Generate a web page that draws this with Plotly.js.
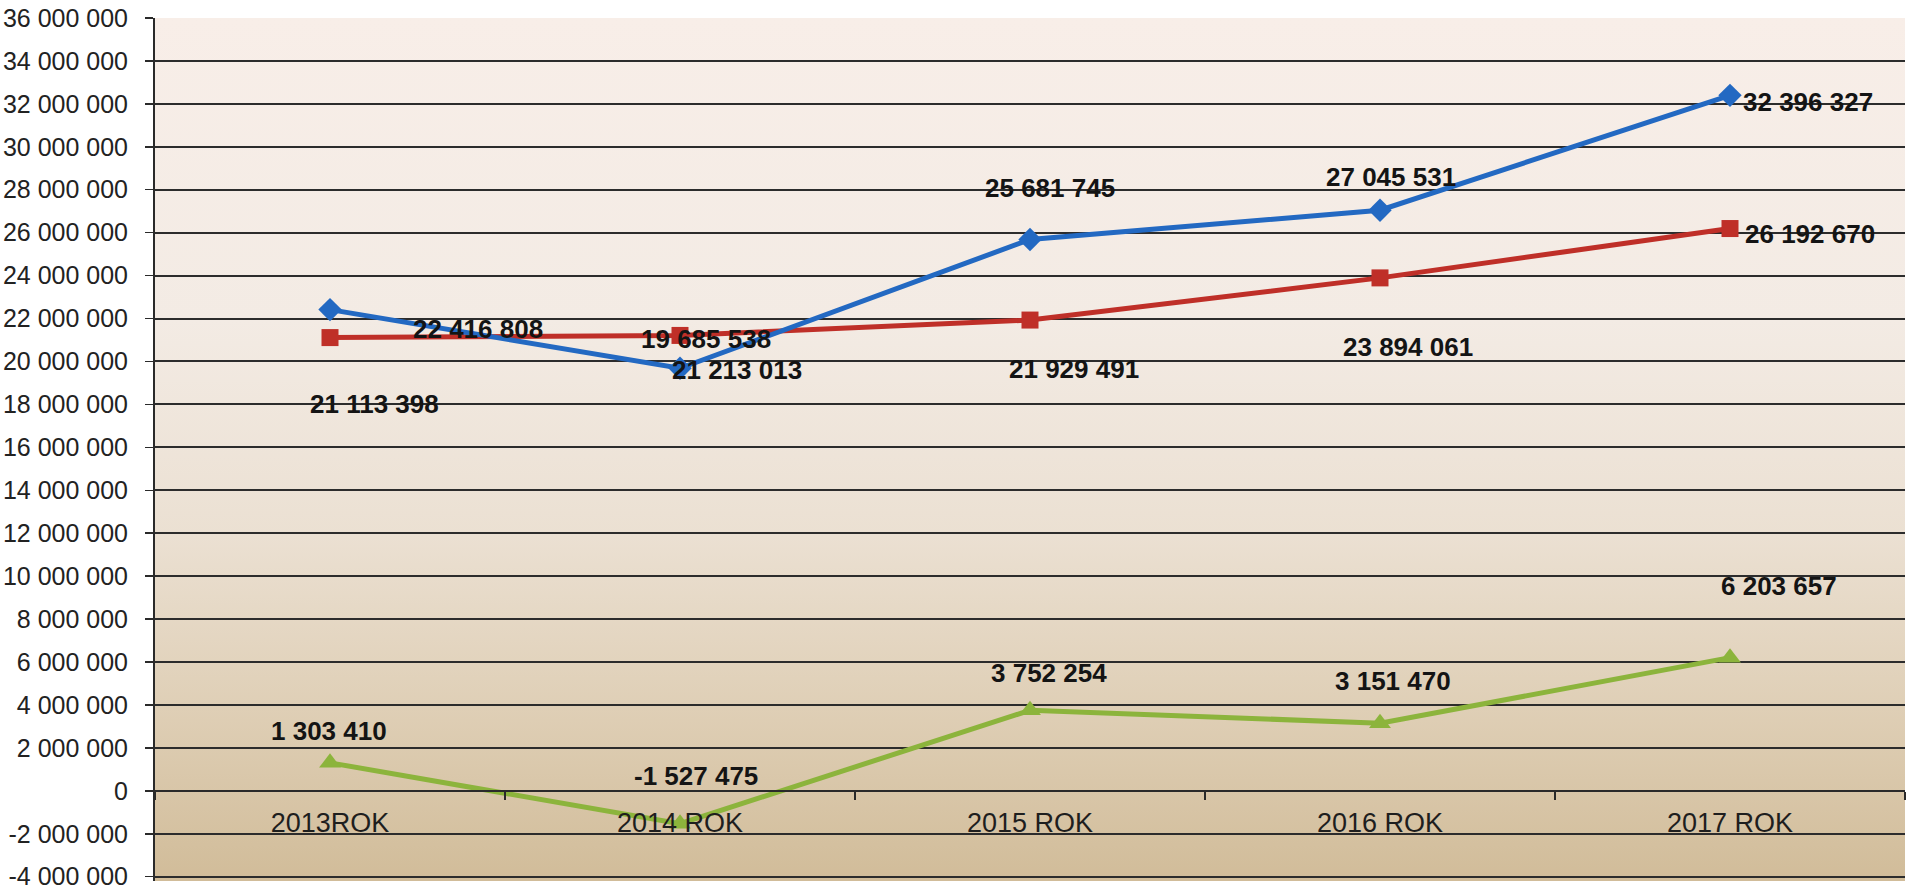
<!DOCTYPE html>
<html>
<head>
<meta charset="utf-8">
<script src="https://cdn.plot.ly/plotly-3.0.1.min.js"></script>
<style>
  html, body { margin: 0; padding: 0; background: #ffffff; }
  #chart { width: 1908px; height: 893px; }
</style>
</head>
<body>
<div id="chart"></div>
<script>
// ---- data ----
const categories = ["2013ROK", "2014 ROK", "2015 ROK", "2016 ROK", "2017 ROK"];
const seriesBlue  = [22416808, 19685538, 25681745, 27045531, 32396327];
const seriesRed   = [21113398, 21213013, 21929491, 23894061, 26192670];
const seriesGreen = [1303410, -1527475, 3752254, 3151470, 6203657];
const yTickValues = [-4000000, -2000000, 0, 2000000, 4000000, 6000000, 8000000, 10000000, 12000000,
  14000000, 16000000, 18000000, 20000000, 22000000, 24000000, 26000000, 28000000, 30000000,
  32000000, 34000000, 36000000];
const yTickLabels = ["-4 000 000", "-2 000 000", "0", "2 000 000", "4 000 000", "6 000 000", "8 000 000",
  "10 000 000", "12 000 000", "14 000 000", "16 000 000", "18 000 000", "20 000 000", "22 000 000",
  "24 000 000", "26 000 000", "28 000 000", "30 000 000", "32 000 000", "34 000 000", "36 000 000"];

// ---- label placement (pixel offsets from each point) ----
const offBlue  = [[148, -19], [26, 29], [20, 52], [11, 33], [78, -7]];
const offRed   = [[44, -66], [57, -35], [44, -49], [28, -69], [80, -5]];
const offGreen = [[-1, 32], [16, 48], [19, 37], [13, 42], [49, 72]];

function fmt(v) {
  const s = Math.abs(v).toString().replace(/\B(?=(\d{3})+(?!\d))/g, " ");
  return (v < 0 ? "-" : "") + s;
}

const colBlue = "#2369c2", colRed = "#bf2f28", colGreen = "#8cb43c";

function trace(vals, color, symbol, size) {
  return {
    type: "scatter", mode: "lines+markers", x: categories, y: vals,
    line: { color: color, width: 5 },
    marker: { symbol: symbol, size: size, color: color },
    hoverinfo: "skip", showlegend: false, cliponaxis: false
  };
}

const data = [
  trace(seriesRed, colRed, "square", 17),
  trace(seriesBlue, colBlue, "diamond", 18),
  trace(seriesGreen, colGreen, "triangle-up", 19)
];

const annotations = [];
function addLabels(vals, offs) {
  vals.forEach((v, i) => {
    annotations.push({
      x: categories[i], y: v, xref: "x", yref: "y",
      text: fmt(v), showarrow: false,
      xanchor: "center", yanchor: "middle",
      xshift: offs[i][0], yshift: offs[i][1],
      font: { family: "Liberation Sans, Arial, sans-serif", size: 26, color: "#141414", weight: "bold" }
    });
  });
}
addLabels(seriesBlue, offBlue);
addLabels(seriesRed, offRed);
addLabels(seriesGreen, offGreen);

const bgSvg = '<svg xmlns="http://www.w3.org/2000/svg" width="100" height="100" preserveAspectRatio="none">' +
  '<defs><linearGradient id="g" x1="0" y1="0" x2="0" y2="1">' +
  '<stop offset="0" stop-color="#f8eee8"/>' +
  '<stop offset="0.35" stop-color="#f3ebe4"/>' +
  '<stop offset="0.6" stop-color="#ebe0d2"/>' +
  '<stop offset="0.8" stop-color="#dfcfb6"/>' +
  '<stop offset="1" stop-color="#d1bc99"/>' +
  '</linearGradient></defs><rect width="100" height="100" fill="url(#g)"/></svg>';

const yMin = -4200000, yMax = 36000000;

const layout = {
  width: 1908, height: 893,
  margin: { l: 155, r: 3, t: 18, b: 12 },
  paper_bgcolor: "#ffffff",
  plot_bgcolor: "rgba(0,0,0,0)",
  font: { family: "Liberation Sans, Arial, sans-serif", color: "#222222" },
  showlegend: false,
  images: [{
    source: "data:image/svg+xml;charset=utf-8," + encodeURIComponent(bgSvg),
    xref: "paper", yref: "paper", x: 0, y: 1, sizex: 1, sizey: 1,
    sizing: "stretch", xanchor: "left", yanchor: "top", layer: "below"
  }],
  xaxis: {
    type: "category", range: [-0.5, 4.5],
    anchor: "free", position: (0 - yMin) / (yMax - yMin),
    showgrid: false, zeroline: false,
    showline: true, linecolor: "#2a2a2a", linewidth: 2,
    ticks: "outside", tickson: "boundaries", ticklen: 8, tickwidth: 1.5, tickcolor: "#2a2a2a",
    ticklabelstandoff: 8,
    tickfont: { size: 27, color: "#1e1e1e" },
    fixedrange: true
  },
  yaxis: {
    range: [yMin, yMax],
    tickmode: "array", tickvals: yTickValues, ticktext: yTickLabels,
    ticklabeloverflow: "allow",
    showgrid: true, gridcolor: "#2c2c2c", gridwidth: 2,
    zeroline: false,
    showline: true, linecolor: "#2a2a2a", linewidth: 2,
    ticks: "outside", ticklen: 8, tickwidth: 1.5, tickcolor: "#2a2a2a",
    ticklabelstandoff: 12,
    tickfont: { size: 25, color: "#222222" },
    fixedrange: true
  },
  annotations: annotations
};

Plotly.newPlot("chart", data, layout, { displayModeBar: false, staticPlot: true });
</script>
</body>
</html>
